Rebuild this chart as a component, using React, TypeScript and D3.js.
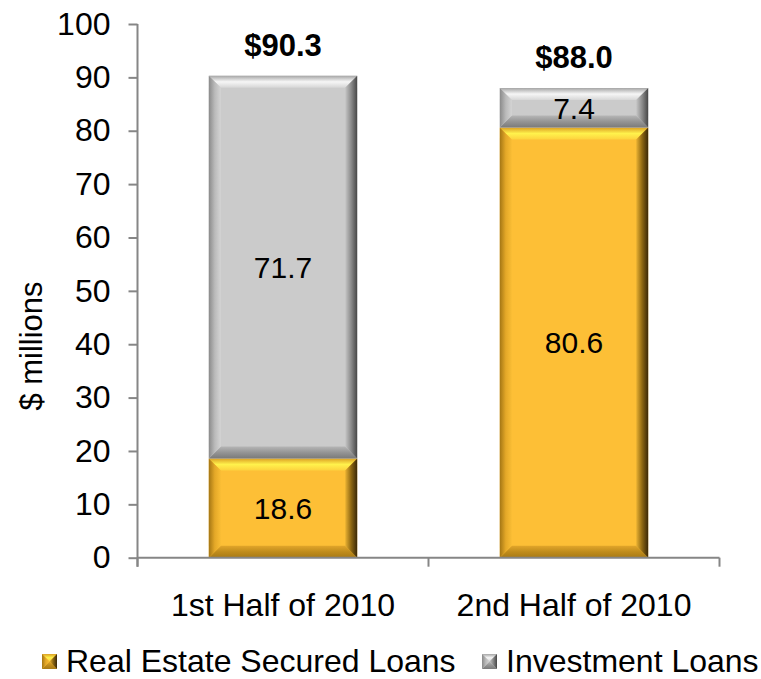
import React, { useEffect, useRef } from 'react';
import * as d3 from 'd3';

const categories = ["1st Half of 2010", "2nd Half of 2010"];
const realEstate = [18.6, 80.6];
const investment = [71.7, 7.4];
const seriesNames = ["Real Estate Secured Loans", "Investment Loans"];
const yTicks = [0, 10, 20, 30, 40, 50, 60, 70, 80, 90, 100];

const width = 761;
const height = 679;
const FONT = "'Liberation Sans', Arial, sans-serif";

const palettes: Record<string, any> = {
  gold: {
    face: "#fdbf36",
    top: ["#dca024", "#fff24c", "#fdd23e"],
    left: ["#a47614", "#e4a828", "#f9bd35"],
    right: ["#eab232", "#8c6612", "#3a2808"],
    bottom: ["#e2a62a", "#c08c1c", "#a87a14"],
  },
  gray: {
    face: "#cbcbcb",
    top: ["#a6a6a6", "#f6f6f6", "#d6d6d6"],
    left: ["#8a8a8a", "#bababa", "#d4d4d4"],
    right: ["#c6c6c6", "#8a8a8a", "#464646"],
    bottom: ["#b6b6b6", "#959595", "#7a7a7a"],
  },
};

const App = () => {
  const ref = useRef<SVGSVGElement>(null);

  useEffect(() => {
    const svg = d3.select(ref.current);
    svg.selectAll("*").remove();

    const defs = svg.append("defs");
    Object.keys(palettes).forEach(k => {
      const p = palettes[k];
      const mk = (id: string, stops: string[], horiz: boolean) => {
        const g = defs.append("linearGradient").attr("id", `${k}-${id}`)
          .attr("x1", 0).attr("y1", 0)
          .attr("x2", horiz ? 1 : 0).attr("y2", horiz ? 0 : 1);
        stops.forEach((c, i) => g.append("stop")
          .attr("offset", `${(i / (stops.length - 1)) * 100}%`)
          .attr("stop-color", c));
      };
      mk("top", p.top, false);
      mk("bottom", p.bottom, false);
      mk("left", p.left, true);
      mk("right", p.right, true);
    });

    const y = d3.scaleLinear().domain([0, 100]).range([557.7, 24]);
    const x = d3.scaleBand().domain(categories).range([137.5, 719.5])
      .paddingInner(0.49).paddingOuter(0.245);

    // beveled block
    const block = (g: any, x0: number, y0: number, w: number, h: number, key: string, b: number) => {
      const bv = Math.min(b, w / 2, h / 2);
      const x1 = x0 + w, y1 = y0 + h;
      g.append("rect").attr("x", x0).attr("y", y0).attr("width", w).attr("height", h)
        .attr("fill", palettes[key].face);
      const poly = (pts: number[][], fill: string) =>
        g.append("polygon").attr("points", pts.map(p => p.join(",")).join(" "))
          .attr("fill", `url(#${key}-${fill})`);
      poly([[x0, y0], [x1, y0], [x1 - bv, y0 + bv], [x0 + bv, y0 + bv]], "top");
      poly([[x0, y1], [x1, y1], [x1 - bv, y1 - bv], [x0 + bv, y1 - bv]], "bottom");
      poly([[x0, y0], [x0 + bv, y0 + bv], [x0 + bv, y1 - bv], [x0, y1]], "left");
      poly([[x1, y0], [x1 - bv, y0 + bv], [x1 - bv, y1 - bv], [x1, y1]], "right");
    };

    const stack = d3.stack<any>().keys(["realEstate", "investment"])(
      categories.map((c, i) => ({ cat: c, realEstate: realEstate[i], investment: investment[i] }))
    );
    const colorKeys = ["gold", "gray"];

    const bars = svg.append("g");
    stack.forEach((layer, li) => {
      layer.forEach((d: any) => {
        const x0 = x(d.data.cat)!;
        const top = y(d[1]);
        const h = y(d[0]) - y(d[1]);
        block(bars, x0, top, x.bandwidth(), h, colorKeys[li], 12);
        const v = d[1] - d[0];
        bars.append("text")
          .attr("x", x0 + x.bandwidth() / 2)
          .attr("y", y((d[0] + d[1]) / 2))
          .attr("dy", "0.36em")
          .attr("text-anchor", "middle")
          .attr("font-family", FONT)
          .attr("font-size", 30)
          .attr("fill", "#000")
          .text(v.toFixed(1));
      });
    });

    // totals
    categories.forEach((c, i) => {
      const total = realEstate[i] + investment[i];
      svg.append("text")
        .attr("x", x(c)! + x.bandwidth() / 2)
        .attr("y", y(total) - 20)
        .attr("text-anchor", "middle")
        .attr("font-family", FONT)
        .attr("font-size", 31)
        .attr("font-weight", "bold")
        .text(`$${total.toFixed(1)}`);
    });

    const axisColor = "#868686";

    // y axis
    const yAxis = svg.append("g").attr("transform", "translate(137.5,0)")
      .call(d3.axisLeft(y).tickValues(yTicks).tickSize(9).tickPadding(18).tickSizeOuter(0));
    yAxis.select(".domain").remove();
    yAxis.selectAll("line").attr("stroke", axisColor).attr("stroke-width", 2);
    yAxis.selectAll("text").attr("font-family", FONT).attr("font-size", 32).attr("fill", "#000");
    yAxis.append("line").attr("x1", 0).attr("x2", 0).attr("y1", y(100)).attr("y2", y(0) + 9)
      .attr("stroke", axisColor).attr("stroke-width", 2);

    // x axis
    const [r0, r1] = x.range();
    const xg = svg.append("g");
    xg.append("line").attr("x1", r0).attr("x2", r1).attr("y1", y(0)).attr("y2", y(0))
      .attr("stroke", axisColor).attr("stroke-width", 2);
    const bounds = [r0, ...categories.map(c => x(c)! + x.step() - (x.step() - x.bandwidth()) / 2)];
    bounds.forEach(b => xg.append("line").attr("x1", b).attr("x2", b)
      .attr("y1", y(0)).attr("y2", y(0) + 9).attr("stroke", axisColor).attr("stroke-width", 2));
    categories.forEach(c => xg.append("text")
      .attr("x", x(c)! + x.bandwidth() / 2)
      .attr("y", 616)
      .attr("text-anchor", "middle")
      .attr("font-family", FONT)
      .attr("font-size", 32)
      .text(c));

    // y label
    svg.append("text")
      .attr("transform", "translate(42,346) rotate(-90)")
      .attr("text-anchor", "middle")
      .attr("font-family", FONT)
      .attr("font-size", 31)
      .text("$ millions");

    // legend
    const legendX = [42, 482];
    seriesNames.forEach((n, i) => {
      const lg = svg.append("g");
      block(lg, legendX[i], 654, 15, 15, colorKeys[i], 7.5);
      lg.append("text")
        .attr("x", legendX[i] + 24)
        .attr("y", 672)
        .attr("font-family", FONT)
        .attr("font-size", 32)
        .text(n);
    });
  }, []);

  return (
    <svg ref={ref} width={width} height={height}
      style={{ position: "absolute", left: 0, top: 0, background: "#fff" }} />
  );
};

export default App;
